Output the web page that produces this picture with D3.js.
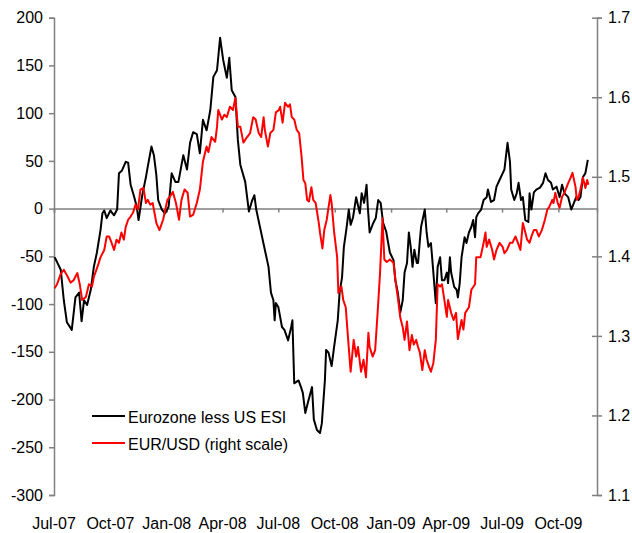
<!DOCTYPE html>
<html><head><meta charset="utf-8">
<script src="https://cdn.jsdelivr.net/npm/d3@7"></script>
<style>body{margin:0;background:#fff}svg{display:block;font-family:"Liberation Sans",Arial,sans-serif}</style>
</head><body><svg id="c" width="632" height="533"></svg>
<script>
const quarterLabels = ["Jul-07","Oct-07","Jan-08","Apr-08","Jul-08","Oct-08","Jan-09","Apr-09","Jul-09","Oct-09"];
const quarterDates = ["2007-07-01","2007-10-01","2008-01-01","2008-04-01","2008-07-01","2008-10-01","2009-01-01","2009-04-01","2009-07-01","2009-10-01"];
const leftTicks = [-300,-250,-200,-150,-100,-50,0,50,100,150,200];
const rightTicks = [1.1,1.2,1.3,1.4,1.5,1.6,1.7];
const seriesNames = ["Eurozone less US ESI","EUR/USD (right scale)"];

const esiDates = ["2007-07-02","2007-07-06","2007-07-12","2007-07-17","2007-07-22","2007-07-30","2007-08-05","2007-08-11","2007-08-15","2007-08-19","2007-08-24","2007-08-30","2007-09-04","2007-09-09","2007-09-15","2007-09-18","2007-09-21","2007-09-25","2007-10-01","2007-10-07","2007-10-12","2007-10-15","2007-10-20","2007-10-26","2007-10-30","2007-11-03","2007-11-09","2007-11-13","2007-11-16","2007-11-22","2007-11-28","2007-12-01","2007-12-07","2007-12-11","2007-12-15","2007-12-18","2007-12-24","2007-12-29",
"2008-01-04","2008-01-09","2008-01-15","2008-01-20","2008-01-28","2008-02-03","2008-02-08","2008-02-13","2008-02-19","2008-02-24","2008-02-29","2008-03-06","2008-03-12","2008-03-17","2008-03-23","2008-03-28","2008-04-02","2008-04-08","2008-04-12","2008-04-16","2008-04-22","2008-04-26","2008-04-30","2008-05-08","2008-05-14","2008-05-19","2008-05-23","2008-05-26","2008-06-01","2008-06-09","2008-06-15","2008-06-19","2008-06-23","2008-06-25","2008-06-27","2008-07-01","2008-07-07","2008-07-11","2008-07-17","2008-07-22","2008-07-24","2008-07-27","2008-08-03","2008-08-07","2008-08-10","2008-08-14","2008-08-18","2008-08-25","2008-08-28","2008-09-02","2008-09-07","2008-09-10","2008-09-15","2008-09-17","2008-09-21","2008-09-26","2008-09-30","2008-10-06","2008-10-09","2008-10-13","2008-10-16","2008-10-20","2008-10-24","2008-10-27","2008-10-31","2008-11-05","2008-11-11","2008-11-14","2008-11-18","2008-11-22","2008-11-24","2008-11-27","2008-12-03","2008-12-07","2008-12-11","2008-12-15","2008-12-19","2008-12-24","2008-12-30",
"2009-01-05","2009-01-08","2009-01-12","2009-01-16","2009-01-20","2009-01-23","2009-01-27","2009-01-30","2009-02-02","2009-02-05","2009-02-08","2009-02-12","2009-02-14","2009-02-17","2009-02-19","2009-02-25","2009-02-28","2009-03-03","2009-03-07","2009-03-09","2009-03-12","2009-03-15","2009-03-18","2009-03-22","2009-03-25","2009-03-29","2009-04-02","2009-04-04","2009-04-07","2009-04-09","2009-04-14","2009-04-18","2009-04-20","2009-04-23","2009-04-26","2009-05-01","2009-05-04","2009-05-08","2009-05-12","2009-05-15","2009-05-18","2009-05-20","2009-05-23","2009-05-28","2009-06-01","2009-06-06","2009-06-08","2009-06-13","2009-06-18","2009-06-22","2009-06-27","2009-07-02","2009-07-05","2009-07-10","2009-07-14","2009-07-16","2009-07-21","2009-07-25","2009-07-28","2009-08-01","2009-08-04","2009-08-08","2009-08-13","2009-08-15","2009-08-18","2009-08-22","2009-08-26","2009-09-01","2009-09-06","2009-09-10","2009-09-14","2009-09-19","2009-09-22","2009-09-28","2009-10-03","2009-10-07","2009-10-11","2009-10-17","2009-10-22","2009-10-27","2009-10-30","2009-11-03","2009-11-06","2009-11-10","2009-11-14","2009-11-18"];
const esiValues = [-51,-56,-64,-96,-119,-127,-93,-88,-118,-96,-101,-85,-61,-46,-22,-5,-2,-10,-2,-7,-1,37,40,49,48,25,12,2,-12,14,33,44,65,56,35,9,-1,-5,
2,37,28,28,56,41,69,80,78,58,93,82,103,138,145,179,156,137,158,124,117,72,46,28,-3,8,14,-1,-19,-43,-61,-88,-96,-117,-99,-103,-124,-127,-138,-124,-117,-183,-180,-187,-193,-214,-204,-187,-221,-232,-235,-225,-180,-148,-151,-165,-145,-117,-88,-72,-40,-22,-1,-17,-9,12,-5,16,6,25,2,-25,-15,-10,9,6,-15,-24,-46,
-54,-75,-88,-109,-96,-67,-57,-25,-40,-61,-43,-57,-57,-33,-19,-1,-25,-40,-36,-51,-75,-99,-61,-51,-75,-75,-67,-78,-51,-67,-82,-85,-93,-78,-51,-30,-36,-25,-19,-12,-30,-9,-5,-1,9,12,20,7,9,23,30,37,41,69,49,20,9,16,27,9,12,-12,-14,16,-1,17,20,22,27,37,30,27,20,23,12,25,16,12,-1,7,12,9,12,33,37,51];

const fxDates = ["2007-07-02","2007-07-06","2007-07-12","2007-07-17","2007-07-23","2007-07-28","2007-08-02","2007-08-08","2007-08-12","2007-08-16","2007-08-22","2007-08-27","2007-09-01","2007-09-04","2007-09-10","2007-09-15","2007-09-21","2007-09-25","2007-09-29","2007-10-03","2007-10-07","2007-10-11","2007-10-15","2007-10-19","2007-10-23","2007-10-26","2007-10-30","2007-11-03","2007-11-07","2007-11-11","2007-11-15","2007-11-19","2007-11-24","2007-11-28","2007-12-01","2007-12-05","2007-12-09","2007-12-15","2007-12-20","2007-12-26",
"2008-01-02","2008-01-06","2008-01-11","2008-01-16","2008-01-21","2008-01-25","2008-01-30","2008-02-04","2008-02-08","2008-02-13","2008-02-19","2008-02-24","2008-02-29","2008-03-06","2008-03-09","2008-03-14","2008-03-20","2008-03-23","2008-03-25","2008-03-31","2008-04-04","2008-04-08","2008-04-13","2008-04-18","2008-04-22","2008-04-26","2008-04-30","2008-05-05","2008-05-11","2008-05-16","2008-05-21","2008-05-25","2008-05-30","2008-06-03","2008-06-07","2008-06-09","2008-06-14","2008-06-18","2008-06-23","2008-06-27","2008-07-02","2008-07-04","2008-07-08","2008-07-12","2008-07-17","2008-07-20","2008-07-23","2008-07-27","2008-07-31","2008-08-04","2008-08-08","2008-08-11","2008-08-14","2008-08-17","2008-08-20","2008-08-24","2008-08-27","2008-08-31","2008-09-05","2008-09-07","2008-09-11","2008-09-14","2008-09-18","2008-09-21","2008-09-24","2008-09-26","2008-09-30","2008-10-05","2008-10-07","2008-10-12","2008-10-15","2008-10-19","2008-10-23","2008-10-27","2008-11-01","2008-11-05","2008-11-08","2008-11-13","2008-11-17","2008-11-21","2008-11-25","2008-11-27","2008-12-02","2008-12-06","2008-12-10","2008-12-14","2008-12-18","2008-12-21","2008-12-25","2008-12-30",
"2009-01-05","2009-01-08","2009-01-11","2009-01-13","2009-01-16","2009-01-20","2009-01-23","2009-01-27","2009-01-31","2009-02-04","2009-02-07","2009-02-11","2009-02-14","2009-02-17","2009-02-21","2009-02-25","2009-02-28","2009-03-04","2009-03-07","2009-03-11","2009-03-15","2009-03-18","2009-03-22","2009-03-25","2009-03-29","2009-04-02","2009-04-04","2009-04-09","2009-04-13","2009-04-17","2009-04-20","2009-04-26","2009-04-29","2009-05-02","2009-05-08","2009-05-12","2009-05-18","2009-05-20","2009-05-27","2009-06-01","2009-06-04","2009-06-06","2009-06-10","2009-06-15","2009-06-18","2009-06-22","2009-06-27","2009-07-02","2009-07-05","2009-07-09","2009-07-14","2009-07-18","2009-07-23","2009-07-27","2009-07-31","2009-08-04","2009-08-07","2009-08-11","2009-08-15","2009-08-18","2009-08-22","2009-08-26","2009-08-30","2009-09-04","2009-09-09","2009-09-13","2009-09-16","2009-09-21","2009-09-23","2009-09-26","2009-09-30","2009-10-03","2009-10-07","2009-10-11","2009-10-17","2009-10-21","2009-10-24","2009-10-29","2009-10-31","2009-11-03","2009-11-06","2009-11-10","2009-11-14","2009-11-17","2009-11-19"];
const fxValues = [1.360,1.365,1.378,1.383,1.375,1.367,1.370,1.379,1.365,1.345,1.349,1.365,1.362,1.374,1.387,1.399,1.408,1.425,1.425,1.417,1.408,1.421,1.417,1.430,1.421,1.437,1.446,1.450,1.455,1.465,1.459,1.484,1.486,1.467,1.471,1.465,1.467,1.442,1.433,1.446,
1.471,1.475,1.481,1.467,1.446,1.471,1.484,1.480,1.450,1.452,1.467,1.484,1.519,1.538,1.531,1.550,1.544,1.563,1.584,1.572,1.578,1.575,1.588,1.584,1.599,1.563,1.563,1.543,1.550,1.555,1.575,1.572,1.555,1.550,1.575,1.559,1.538,1.555,1.559,1.581,1.584,1.588,1.568,1.593,1.588,1.591,1.575,1.572,1.559,1.555,1.525,1.496,1.492,1.471,1.469,1.487,1.471,1.467,1.442,1.430,1.410,1.433,1.446,1.462,1.477,1.467,1.431,1.399,1.354,1.362,1.345,1.336,1.295,1.255,1.295,1.274,1.286,1.255,1.270,1.248,1.304,1.286,1.274,1.282,1.329,1.379,1.448,1.396,1.393,1.396,
1.392,1.370,1.354,1.342,1.323,1.311,1.295,1.318,1.282,1.301,1.289,1.295,1.286,1.279,1.257,1.282,1.270,1.261,1.255,1.266,1.295,1.365,1.362,1.365,1.345,1.324,1.345,1.329,1.320,1.329,1.296,1.320,1.308,1.329,1.336,1.358,1.365,1.399,1.399,1.417,1.430,1.412,1.421,1.408,1.396,1.408,1.417,1.412,1.404,1.408,1.417,1.417,1.425,1.417,1.408,1.442,1.433,1.421,1.417,1.425,1.433,1.433,1.425,1.433,1.446,1.459,1.462,1.471,1.467,1.480,1.467,1.461,1.475,1.480,1.492,1.499,1.505,1.487,1.471,1.475,1.484,1.499,1.486,1.496,1.490];

const parse = d3.utcParse("%Y-%m-%d");
const svg = d3.select("#c");
const axisColor = "#808080";
const fontSize = 16;

const x = d3.scaleUtc().domain([parse("2007-07-01"), parse("2009-12-03")]).range([54, 597]);
const yL = d3.scaleLinear().domain([-300, 200]).range([495, 17.7]);
const yR = d3.scaleLinear().domain([1.1, 1.7]).range([495, 17.7]);

// left axis
const gL = svg.append("g").attr("transform", "translate(54,0)")
  .call(d3.axisLeft(yL).tickValues(leftTicks).tickSize(5).tickPadding(6).tickFormat(d => String(d)));
gL.select(".domain").attr("stroke", axisColor).attr("stroke-width", 1.5);
gL.selectAll(".tick line").attr("stroke", axisColor).attr("stroke-width", 1.5);
gL.selectAll("text").attr("font-size", fontSize).attr("fill", "#000").attr("font-family", "Liberation Sans, Arial, sans-serif");

// right axis
const gR = svg.append("g").attr("transform", "translate(597,0)")
  .call(d3.axisRight(yR).tickValues(rightTicks).tickSize(5).tickPadding(6).tickFormat(d3.format(".1f")));
gR.select(".domain").attr("stroke", axisColor).attr("stroke-width", 1.5);
gR.selectAll(".tick line").attr("stroke", axisColor).attr("stroke-width", 1.5).attr("x1", -5);
gR.selectAll("text").attr("font-size", fontSize).attr("fill", "#000").attr("font-family", "Liberation Sans, Arial, sans-serif");

// zero line + quarterly ticks
const zeroY = yL(0);
const gX = svg.append("g").attr("transform", `translate(0,${zeroY})`)
  .call(d3.axisBottom(x).tickValues(quarterDates.map(parse)).tickSize(4).tickFormat(""));
gX.select(".domain").attr("stroke", axisColor).attr("stroke-width", 1.5);
gX.selectAll(".tick line").attr("stroke", axisColor).attr("stroke-width", 1.5);

// bottom date labels
svg.append("g").selectAll("text").data(quarterLabels).join("text")
  .attr("x", (d, i) => x(parse(quarterDates[i])))
  .attr("y", 529)
  .attr("text-anchor", "middle")
  .attr("font-size", fontSize).attr("fill", "#000")
  .text(d => d);

// lines
const esi = esiDates.map((d, i) => ({ date: parse(d), v: esiValues[i] }));
const fx = fxDates.map((d, i) => ({ date: parse(d), v: fxValues[i] }));

svg.append("path").datum(esi)
  .attr("fill", "none").attr("stroke", "#000").attr("stroke-width", 2).attr("stroke-linejoin", "round")
  .attr("d", d3.line().x(d => x(d.date)).y(d => yL(d.v)));
svg.append("path").datum(fx)
  .attr("fill", "none").attr("stroke", "#ff0000").attr("stroke-width", 2).attr("stroke-linejoin", "round")
  .attr("d", d3.line().x(d => x(d.date)).y(d => yR(d.v)));

// legend
const legend = svg.append("g");
const legColors = ["#000", "#ff0000"];
const legY = [416, 443];
seriesNames.forEach((name, i) => {
  legend.append("line").attr("x1", 92).attr("x2", 125).attr("y1", legY[i]).attr("y2", legY[i])
    .attr("stroke", legColors[i]).attr("stroke-width", 2);
  legend.append("text").attr("x", 128).attr("y", legY[i] + 6.5)
    .attr("font-size", fontSize).attr("fill", "#000").text(name);
});
</script>
</body></html>
